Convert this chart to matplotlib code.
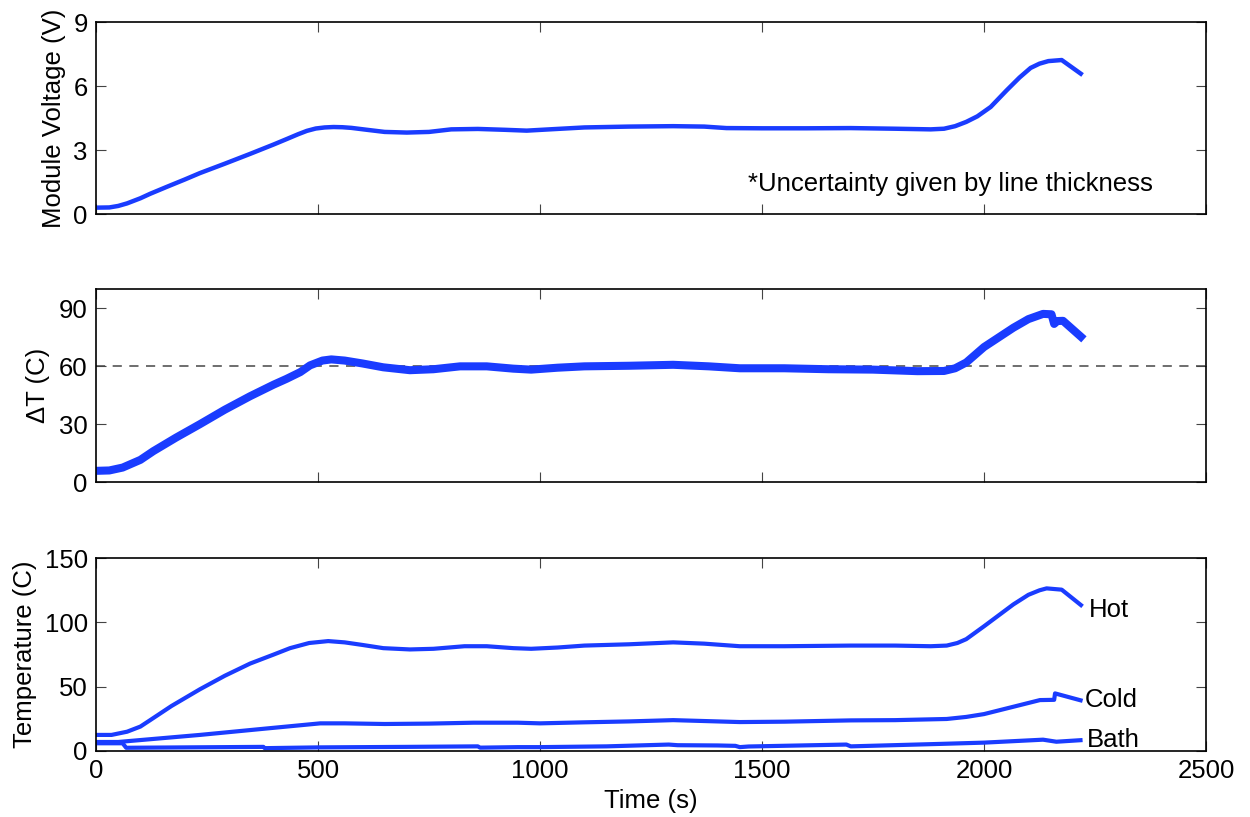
import matplotlib
matplotlib.use("Agg")
import matplotlib.pyplot as plt

plt.rcParams['font.family'] = ['Liberation Sans', 'DejaVu Sans']
plt.rcParams['font.size'] = 18.5

# Module voltage (V) vs time (s)
volt_t = [0, 30, 50, 70, 100, 122, 160, 200, 234, 290, 347, 400, 430, 455, 475,
          495, 515, 535, 555, 575, 610, 650, 700, 750, 800, 860, 920, 970, 1030,
          1100, 1200, 1300, 1370, 1420, 1500, 1600, 1700, 1800, 1880, 1910, 1935,
          1960, 1985, 2015, 2051, 2080, 2105, 2125, 2145, 2175, 2222]
volt_v = [0.30, 0.31, 0.38, 0.50, 0.74, 0.95, 1.28, 1.62, 1.92, 2.36, 2.82, 3.26,
          3.52, 3.74, 3.90, 4.01, 4.06, 4.08, 4.07, 4.04, 3.95, 3.85, 3.82, 3.85,
          3.97, 3.99, 3.95, 3.91, 3.98, 4.06, 4.10, 4.12, 4.10, 4.03, 4.02, 4.02,
          4.03, 4.00, 3.97, 4.00, 4.12, 4.32, 4.58, 5.02, 5.80, 6.40, 6.85, 7.05,
          7.17, 7.22, 6.52]

# Temperature difference across the module (C)
dt_t = [0, 30, 60, 100, 129, 180, 234, 290, 347, 400, 429, 460, 482, 510, 530,
        560, 600, 647, 707, 760, 820, 880, 940, 980, 1040, 1100, 1200, 1300, 1380,
        1450, 1550, 1650, 1750, 1850, 1910, 1935, 1960, 2000, 2066, 2100, 2133,
        2152, 2158, 2165, 2178, 2225]
dt_v = [5.8, 6.0, 7.5, 11.5, 16.0, 23.0, 30.0, 37.5, 44.5, 50.5, 53.5, 57.0, 60.5,
        63.0, 63.6, 63.0, 61.5, 59.5, 58.0, 58.5, 60.0, 60.0, 58.8, 58.3, 59.3,
        60.0, 60.3, 60.8, 60.0, 59.0, 59.0, 58.5, 58.3, 57.5, 57.6, 59.0, 62.0,
        70.0, 80.0, 84.5, 87.2, 87.0, 82.0, 83.5, 83.6, 74.0]
dt_target = 60

# Hot side, cold side and bath temperatures (C)
hot_t = [0, 35, 70, 100, 122, 170, 234, 290, 347, 400, 437, 480, 523, 560, 600,
         647, 707, 760, 830, 880, 940, 980, 1040, 1100, 1200, 1300, 1370, 1450,
         1550, 1700, 1800, 1880, 1916, 1940, 1960, 2000, 2066, 2100, 2125, 2141,
         2175, 2222]
hot_v = [12.5, 12.5, 15.0, 19.0, 24.0, 35.0, 48.0, 58.5, 68.0, 75.0, 80.0, 84.0,
         85.5, 84.5, 82.5, 80.0, 79.0, 79.5, 81.5, 81.5, 80.0, 79.5, 80.5, 82.0,
         83.0, 84.5, 83.5, 81.5, 81.5, 82.0, 82.0, 81.5, 82.0, 84.0, 87.0, 97.0,
         114.0, 121.5, 125.0, 126.5, 125.5, 112.5]

cold_t = [0, 50, 100, 234, 384, 505, 560, 650, 750, 850, 950, 1000, 1100, 1200,
          1300, 1400, 1450, 1550, 1700, 1800, 1916, 1960, 2000, 2066, 2126, 2158,
          2160, 2222]
cold_v = [7.0, 7.0, 8.5, 12.5, 17.5, 21.5, 21.5, 21.0, 21.3, 22.0, 22.0, 21.5,
          22.3, 23.0, 24.0, 23.0, 22.5, 22.8, 23.8, 24.0, 24.9, 26.5, 28.7, 34.4,
          39.6, 39.8, 44.8, 39.0]

bath_t = [0, 60, 68, 200, 377, 380, 500, 700, 860, 865, 950, 1000, 1150, 1290,
          1310, 1400, 1440, 1450, 1470, 1690, 1700, 1900, 2000, 2133, 2163, 2222]
bath_v = [6.0, 6.0, 2.5, 2.8, 3.2, 2.2, 2.8, 3.2, 3.6, 2.6, 3.0, 3.0, 3.6, 5.0,
          4.5, 4.3, 4.0, 3.0, 3.5, 5.0, 3.6, 5.5, 6.5, 8.8, 7.2, 8.5]

x_ticks = [0, 500, 1000, 1500, 2000, 2500]
blue = '#1a3cff'

fig = plt.figure(figsize=(12.5, 8.17), dpi=100)
left, width = 0.0768, 0.888
ax1 = fig.add_axes([left, 0.738, width, 0.235])
ax2 = fig.add_axes([left, 0.410, width, 0.236])
ax3 = fig.add_axes([left, 0.0808, width, 0.236])

for ax in (ax1, ax2, ax3):
    ax.set_xlim(0, 2500)
    ax.set_xticks(x_ticks)
    ax.tick_params(direction='in', length=7, width=0.8, top=True, right=True,
                   color='#444444', labelsize=18.5, pad=6)
    for s in ax.spines.values():
        s.set_linewidth(1.2)

# Voltage panel
ax1.plot(volt_t, volt_v, color=blue, lw=3.2, solid_capstyle='butt')
ax1.set_ylim(0, 9)
ax1.set_yticks([0, 3, 6, 9])
ax1.tick_params(labelbottom=False)
ax1.set_ylabel('Module Voltage (V)')
ax1.yaxis.set_label_coords(-0.027, 0.5)
ax1.text(1468, 1.4, '*Uncertainty given by line thickness', ha='left', va='center',
         fontsize=18.5)

# Temperature difference panel
ax2.axhline(dt_target, color='#555555', lw=1.2, ls=(0, (5.5, 4.5)), zorder=1)
ax2.plot(dt_t, dt_v, color=blue, lw=5.8, solid_capstyle='butt', zorder=2)
ax2.set_ylim(0, 100)
ax2.set_yticks([0, 30, 60, 90])
ax2.tick_params(labelbottom=False)
ax2.set_ylabel('ΔT (C)')
ax2.yaxis.set_label_coords(-0.041, 0.5)

# Temperatures panel
for t, v in ((hot_t, hot_v), (cold_t, cold_v), (bath_t, bath_v)):
    ax3.plot(t, v, color=blue, lw=3.0, solid_capstyle='butt')
ax3.text(hot_t[-1] + 15, 110, 'Hot', ha='left', va='center', fontsize=18.5)
ax3.text(cold_t[-1] + 5, 39.5, 'Cold', ha='left', va='center', fontsize=18.5)
ax3.text(bath_t[-1] + 10, 8.5, 'Bath', ha='left', va='center', fontsize=18.5)
ax3.set_ylim(0, 150)
ax3.set_yticks([0, 50, 100, 150])
ax3.set_ylabel('Temperature (C)')
ax3.yaxis.set_label_coords(-0.053, 0.5)
ax3.set_xlabel('Time (s)')
ax3.xaxis.set_label_coords(0.5, -0.195)

fig.savefig('out.png', dpi=100)
